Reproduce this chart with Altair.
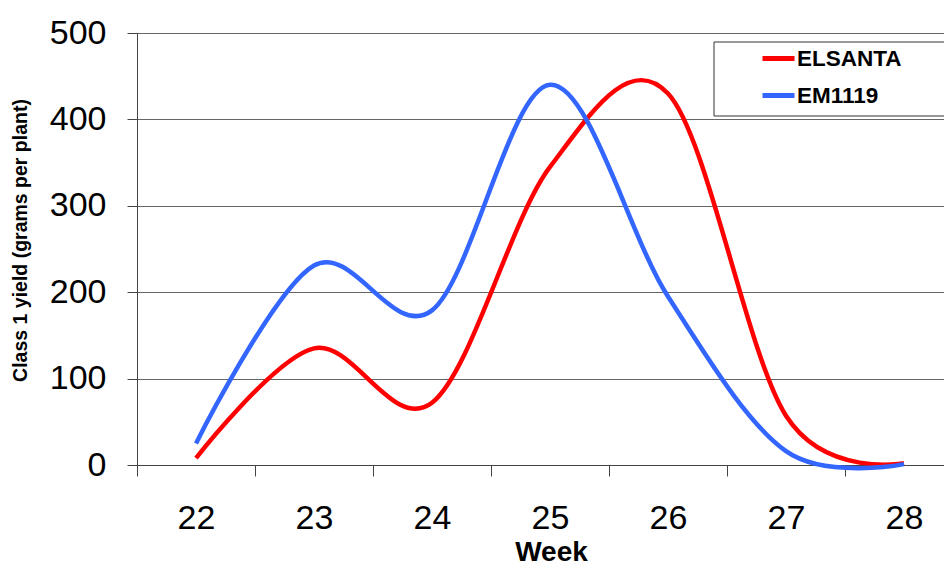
import altair as alt
import pandas as pd

weeks = [22, 23, 24, 25, 26, 27, 28]
elsanta = [8, 135, 72, 345, 430, 57, 2]
em1119 = [25, 231, 179, 440, 195, 16, 1]
series_names = ["ELSANTA", "EM1119"]
series_colors = ["#FF0000", "#3366FF"]
y_ticks = [0, 100, 200, 300, 400, 500]
x_tick_marks = [21.5, 22.5, 23.5, 24.5, 25.5, 26.5, 27.5]

rows = []
for name, vals in zip(series_names, [elsanta, em1119]):
    for w, v in zip(weeks, vals):
        rows.append({"Week": w, "Yield": v, "Variety": name})
df = pd.DataFrame(rows)

axis_values = sorted(weeks + x_tick_marks)
FONT = "Liberation Sans"

x_axis = alt.Axis(
    values=axis_values,
    labelExpr="datum.value % 1 === 0 ? format(datum.value, 'd') : ''",
    tickOpacity={"condition": {"test": "datum.value % 1 === 0", "value": 0}, "value": 1},
    grid=False,
    tickSize=11,
    tickColor="#444444",
    domainColor="#444444",
    labelFont=FONT,
    labelFontSize=34,
    labelColor="black",
    labelPadding=25,
    labelOverlap=False,
    labelFlush=False,
    labelBound=False,
    title="Week",
    titleFont=FONT,
    titleFontSize=28,
    titleFontWeight="bold",
    titleColor="black",
    titleBaseline="alphabetic",
    titleX=414,
    titleY=95,
)

y_axis = alt.Axis(
    values=y_ticks,
    grid=True,
    gridColor="#666666",
    gridOpacity=1,
    tickSize=10,
    tickColor="#444444",
    domainColor="#444444",
    labelFont=FONT,
    labelFontSize=34,
    labelColor="black",
    labelPadding=21,
    title="Class 1 yield (grams per plant)",
    titleFont=FONT,
    titleFontSize=19.5,
    titleFontWeight="bold",
    titleColor="black",
    titleBaseline="alphabetic",
    titleAlign="center",
    titleAngle=270,
    titleX=-111,
    titleY=207,
)

box = alt.Chart(pd.DataFrame({"k": [0]})).mark_rect(
    fill="white", stroke="#333333", strokeWidth=1
).encode(
    x=alt.value(577), x2=alt.value(840), y=alt.value(9), y2=alt.value(83)
)

lines = alt.Chart(df).mark_line(
    interpolate="cardinal", strokeWidth=4.5
).encode(
    x=alt.X("Week:Q", scale=alt.Scale(domain=[21.5, 28.339], nice=False, zero=False), axis=x_axis),
    y=alt.Y("Yield:Q", scale=alt.Scale(domain=[0, 500], nice=False), axis=y_axis),
    color=alt.Color(
        "Variety:N",
        scale=alt.Scale(domain=series_names, range=series_colors),
        legend=alt.Legend(
            title=None,
            orient="none",
            legendX=623,
            legendY=7,
            padding=0,
            symbolType="stroke",
            symbolSize=1024,
            symbolStrokeWidth=5,
            labelFont=FONT,
            labelFontSize=22.5,
            labelFontWeight="bold",
            labelColor="black",
            labelOffset=0,
            rowPadding=7,
        ),
    ),
    order="Week:Q",
)

chart = alt.layer(box, lines).properties(
    width=807,
    height=432,
    autosize=alt.AutoSizeParams(type="none"),
    padding={"left": 129, "top": 25, "right": 0, "bottom": 96},
).configure_view(strokeWidth=0).configure(background="white")

chart.save("out.html", embed_options={"renderer": "svg", "actions": False})
